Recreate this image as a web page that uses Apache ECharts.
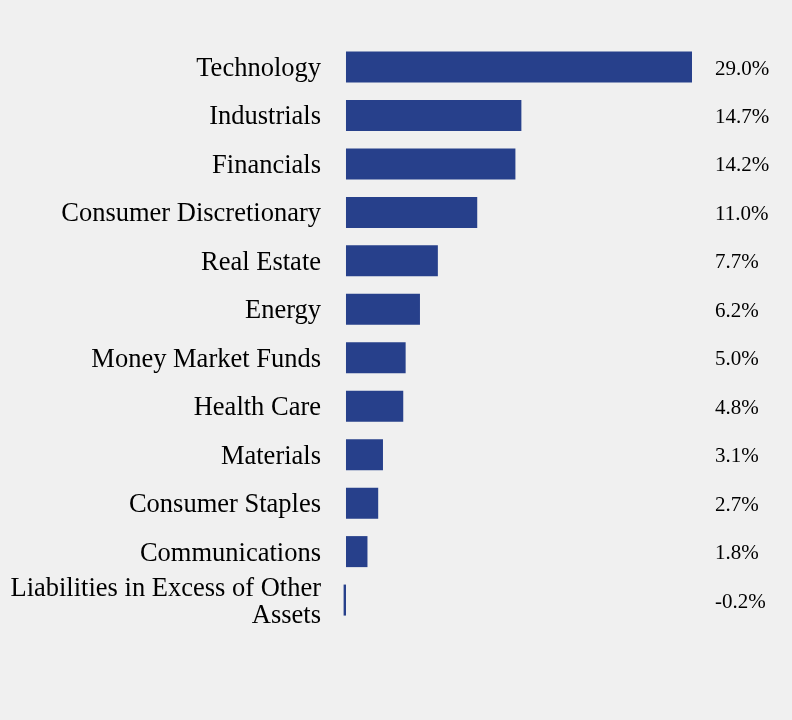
<!DOCTYPE html>
<html>
<head>
<meta charset="utf-8">
<script src="https://cdn.jsdelivr.net/npm/echarts@6/dist/echarts.min.js"></script>
<style>html,body{margin:0;padding:0;background:#f0f0f0;}#c{width:792px;height:720px;}</style>
</head>
<body>
<div id="c"></div>
<script>
const categories = ["Technology","Industrials","Financials","Consumer Discretionary","Real Estate","Energy","Money Market Funds","Health Care","Materials","Consumer Staples","Communications","Liabilities in Excess of Other Assets"];
const values = [29.0,14.7,14.2,11.0,7.7,6.2,5.0,4.8,3.1,2.7,1.8,-0.2];
const valueLabels = values.map(v => v.toFixed(1) + '%');

function wrap(s, maxChars) {
  const words = s.split(' ');
  const lines = [];
  let cur = '';
  words.forEach(w => {
    const t = cur ? cur + ' ' + w : w;
    if (t.length > maxChars && cur) { lines.push(cur); cur = w; } else { cur = t; }
  });
  if (cur) lines.push(cur);
  return lines.join('\n');
}

const chart = echarts.init(document.getElementById('c'), null, {renderer:'canvas'});
chart.setOption({
  backgroundColor: '#f0f0f0',
  animation: false,
  grid: {left: 343.6, right: 100, top: 42.8, bottom: 95.7, containLabel: false},
  xAxis: {type:'value', min:-0.2, max:29, show:false},
  yAxis: [
    {type:'category', data: categories, inverse:true,
     axisLine:{show:false, onZero:false}, axisTick:{show:false},
     axisLabel:{margin:22.6, fontFamily:'Liberation Serif', fontSize:26.5, color:'#000', align:'right',
       lineHeight:27, formatter: s => wrap(s, 30).split('\n').map(l => '{a|' + l + '}').join('\n'),
       rich:{a:{fontFamily:'Liberation Serif', fontSize:26.5, lineHeight:27, padding:[4,0,0,0]}}}},
    {type:'category', data: valueLabels, inverse:true, position:'right',
     axisLine:{show:false, onZero:false}, axisTick:{show:false},
     axisLabel:{margin:23, fontFamily:'Liberation Serif', fontSize:21, color:'#000', align:'left',
       formatter: s => '{b|' + s + '}',
       rich:{b:{fontFamily:'Liberation Serif', fontSize:21, padding:[4,0,0,0]}}}}
  ],
  series: [{type:'bar', data: values, yAxisIndex:0, barWidth:'64%', itemStyle:{color:'#27408b'}}]
});
</script>
</body>
</html>
